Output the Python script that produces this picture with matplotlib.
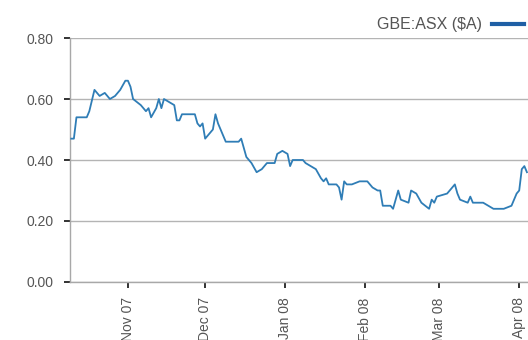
import matplotlib
matplotlib.use("Agg")
import matplotlib.pyplot as plt
import matplotlib.dates as mdates
import numpy as np
import datetime as dt

# Data
dates = ["2007-10-10", "2007-10-11", "2007-10-12", "2007-10-16", "2007-10-17",
         "2007-10-19", "2007-10-21", "2007-10-23", "2007-10-25", "2007-10-27",
         "2007-10-29", "2007-10-31", "2007-11-01", "2007-11-02", "2007-11-03",
         "2007-11-06", "2007-11-08", "2007-11-09", "2007-11-10", "2007-11-12",
         "2007-11-13", "2007-11-14", "2007-11-15", "2007-11-17", "2007-11-19",
         "2007-11-20", "2007-11-21", "2007-11-22", "2007-11-27", "2007-11-28",
         "2007-11-29", "2007-11-30", "2007-12-01", "2007-12-02", "2007-12-04",
         "2007-12-05", "2007-12-06", "2007-12-07", "2007-12-09", "2007-12-12",
         "2007-12-14", "2007-12-15", "2007-12-16", "2007-12-17", "2007-12-19",
         "2007-12-21", "2007-12-23", "2007-12-25", "2007-12-28", "2007-12-29",
         "2007-12-31", "2008-01-02", "2008-01-03", "2008-01-04", "2008-01-05",
         "2008-01-08", "2008-01-09", "2008-01-11", "2008-01-13", "2008-01-15",
         "2008-01-16", "2008-01-17", "2008-01-18", "2008-01-21", "2008-01-22",
         "2008-01-23", "2008-01-24", "2008-01-25", "2008-01-27", "2008-01-30",
         "2008-02-02", "2008-02-04", "2008-02-06", "2008-02-07", "2008-02-08",
         "2008-02-11", "2008-02-12", "2008-02-14", "2008-02-15", "2008-02-18",
         "2008-02-19", "2008-02-21", "2008-02-23", "2008-02-26", "2008-02-27",
         "2008-02-28", "2008-02-29", "2008-03-04", "2008-03-06", "2008-03-07",
         "2008-03-08", "2008-03-09", "2008-03-12", "2008-03-13", "2008-03-14",
         "2008-03-18", "2008-03-20", "2008-03-22", "2008-03-26", "2008-03-29",
         "2008-03-31", "2008-04-01", "2008-04-02", "2008-04-03", "2008-04-04"]
prices = [0.47, 0.47, 0.54, 0.54, 0.56,
          0.63, 0.61, 0.62, 0.60, 0.61,
          0.63, 0.66, 0.66, 0.64, 0.60,
          0.58, 0.56, 0.57, 0.54, 0.57,
          0.60, 0.57, 0.60, 0.59, 0.58,
          0.53, 0.53, 0.55, 0.55, 0.52,
          0.51, 0.52, 0.47, 0.48, 0.50,
          0.55, 0.52, 0.50, 0.46, 0.46,
          0.46, 0.47, 0.44, 0.41, 0.39,
          0.36, 0.37, 0.39, 0.39, 0.42,
          0.43, 0.42, 0.38, 0.40, 0.40,
          0.40, 0.39, 0.38, 0.37, 0.34,
          0.33, 0.34, 0.32, 0.32, 0.31,
          0.27, 0.33, 0.32, 0.32, 0.33,
          0.33, 0.31, 0.30, 0.30, 0.25,
          0.25, 0.24, 0.30, 0.27, 0.26,
          0.30, 0.29, 0.26, 0.24, 0.27,
          0.26, 0.28, 0.29, 0.31, 0.32,
          0.29, 0.27, 0.26, 0.28, 0.26,
          0.26, 0.25, 0.24, 0.24, 0.25,
          0.29, 0.30, 0.37, 0.38, 0.36]
yticks = [0.0, 0.2, 0.4, 0.6, 0.8]
series_name = "GBE:ASX ($A)"

x = [dt.datetime.strptime(d, "%Y-%m-%d") for d in dates]

plt.rcParams['font.family'] = ['Liberation Sans', 'DejaVu Sans']

fig = plt.figure(figsize=(5.28, 3.4), dpi=100)
ax = fig.add_axes([0.1326, 0.1706, 0.8674, 0.7176])

ax.plot(x, prices, color="#2f7db6", lw=1.3, zorder=3)

ax.set_ylim(0, 0.8)
ax.set_xlim(dt.datetime(2007, 10, 9, 12), dt.datetime(2008, 4, 4, 10))
ax.set_yticks(yticks)
ax.set_yticklabels(["%.2f" % v for v in yticks])
ax.yaxis.grid(True, color="#b4b4b4", lw=1.0)
ax.set_axisbelow(True)

ax.xaxis.set_major_locator(mdates.MonthLocator())
ax.xaxis.set_major_formatter(mdates.DateFormatter("%b %y"))
for lab in ax.get_xticklabels():
    lab.set_rotation(90)
    lab.set_va("top")

for s in ["top", "right"]:
    ax.spines[s].set_visible(False)
for s in ["left", "bottom"]:
    ax.spines[s].set_color("#a8a8a8")
    ax.spines[s].set_linewidth(1.0)

ax.tick_params(axis="both", length=4, width=1.3, color="#222222",
               labelcolor="#555555", labelsize=10)
ax.tick_params(axis="y", pad=8)
ax.tick_params(axis="x", pad=7)

# legend in the top right corner
fig.text(0.912, 0.928, series_name, ha="right", va="center",
         fontsize=11.5, color="#555555")
fig.add_artist(plt.Line2D([0.932, 0.993], [0.928, 0.928], color="#1f5fa5",
                          lw=3, transform=fig.transFigure))

fig.savefig("out.png", dpi=100)
